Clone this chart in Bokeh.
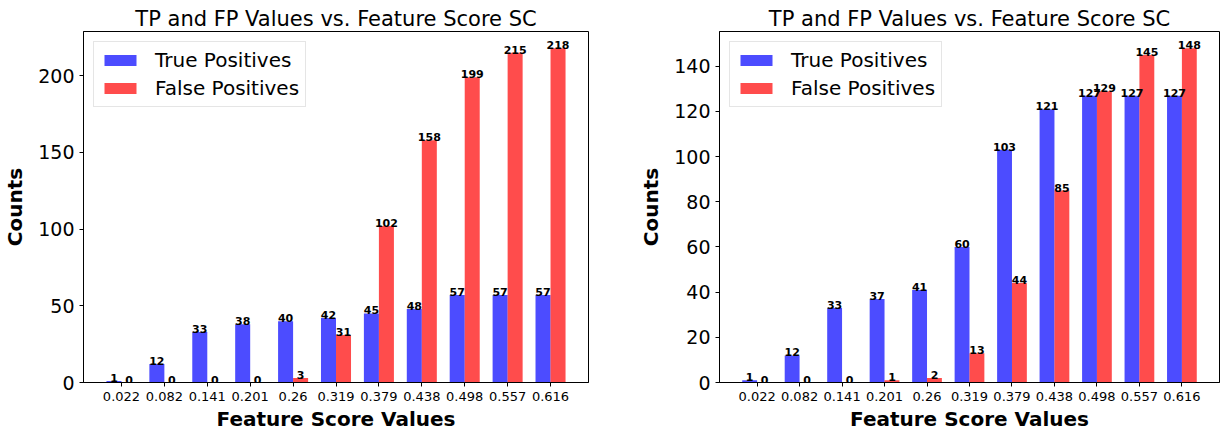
from bokeh.plotting import figure
from bokeh.layouts import row
from bokeh.models import ColumnDataSource, FixedTicker, Range1d
from bokeh.embed import file_html
from bokeh.resources import INLINE

# Feature score thresholds (x categories)
scores = ["0.022", "0.082", "0.141", "0.201", "0.26", "0.319",
          "0.379", "0.438", "0.498", "0.557", "0.616"]

# Left panel counts
tp_left = [1, 12, 33, 38, 40, 42, 45, 48, 57, 57, 57]
fp_left = [0, 0, 0, 0, 3, 31, 102, 158, 199, 215, 218]

# Right panel counts
tp_right = [1, 12, 33, 37, 41, 60, 103, 121, 127, 127, 127]
fp_right = [0, 0, 0, 1, 2, 13, 44, 85, 129, 145, 148]

FONT = "DejaVu Sans"
BAR_W = 0.35


def panel(tp, fp, y_max, y_ticks, width, border_left, border_right):
    idx = list(range(len(scores)))
    p = figure(width=width, height=433, output_backend="svg", toolbar_location=None,
               x_range=Range1d(-0.885, 10.885), y_range=Range1d(0, y_max),
               min_border_left=border_left, min_border_right=border_right,
               min_border_top=31, min_border_bottom=50)
    p.title.text = "TP and FP Values vs. Feature Score SC"
    p.title.align = "center"
    p.title.text_font = FONT
    p.title.text_font_size = "21px"
    p.title.text_font_style = "normal"
    p.title.text_color = "black"
    p.title.standoff = 2
    p.title.offset = 0

    src = ColumnDataSource(dict(
        x_tp=[i - BAR_W / 2 for i in idx], x_fp=[i + BAR_W / 2 for i in idx],
        tp=tp, fp=fp,
        tp_txt=[str(v) for v in tp], fp_txt=[str(v) for v in fp]))

    p.vbar(x="x_tp", top="tp", width=BAR_W, source=src, fill_color="blue",
           fill_alpha=0.7, line_color=None, legend_label="True Positives")
    p.vbar(x="x_fp", top="fp", width=BAR_W, source=src, fill_color="red",
           fill_alpha=0.7, line_color=None, legend_label="False Positives")

    for xcol, ycol, tcol in (("x_tp", "tp", "tp_txt"), ("x_fp", "fp", "fp_txt")):
        p.text(x=xcol, y=ycol, text=tcol, source=src, text_align="center",
               text_baseline="bottom", text_font_size="11px", text_font_style="bold",
               text_font={"value": FONT}, text_color="black", y_offset=1)

    p.xgrid.visible = False
    p.ygrid.visible = False
    p.outline_line_color = "black"
    p.outline_line_width = 1
    p.outline_line_alpha = 1

    p.xaxis.ticker = FixedTicker(ticks=idx)
    p.xaxis.major_label_overrides = {i: s for i, s in enumerate(scores)}
    p.yaxis.ticker = FixedTicker(ticks=y_ticks)
    for ax in (p.xaxis, p.yaxis):
        ax.axis_line_color = "black"
        ax.major_tick_line_color = "black"
        ax.major_tick_out = 4
        ax.major_tick_in = 0
        ax.minor_tick_line_color = None
        ax.major_label_text_font = FONT
        ax.major_label_text_color = "black"
        ax.axis_label_text_font = FONT
        ax.axis_label_text_font_style = "bold"
        ax.axis_label_text_font_size = "20px"
        ax.axis_label_text_color = "black"
    p.xaxis.major_label_text_font_size = "13px"
    p.yaxis.major_label_text_font_size = "19px"
    p.xaxis.major_label_standoff = 5
    p.yaxis.major_label_standoff = 5
    p.xaxis.axis_label = "Feature Score Values"
    p.yaxis.axis_label = "Counts"
    p.xaxis.axis_label_standoff = 3
    p.yaxis.axis_label_standoff = 8

    lg = p.legend[0]
    lg.location = "top_left"
    lg.margin = 10
    lg.padding = 6
    lg.spacing = 4
    lg.glyph_width = 40
    lg.glyph_height = 14
    lg.label_height = 20
    lg.label_standoff = 15
    lg.label_text_font = FONT
    lg.label_text_font_size = "20px"
    lg.label_text_color = "black"
    lg.border_line_color = "#cccccc"
    lg.border_line_width = 1
    lg.background_fill_alpha = 0.8
    return p


p1 = panel(tp_left, fp_left, 228.9, [0, 50, 100, 150, 200], 600, 82, 12)
p2 = panel(tp_right, fp_right, 155.4, [0, 20, 40, 60, 80, 100, 120, 140], 623, 119, 4)

layout = row(p1, p2)
open("out.html", "w").write(file_html(layout, INLINE))
